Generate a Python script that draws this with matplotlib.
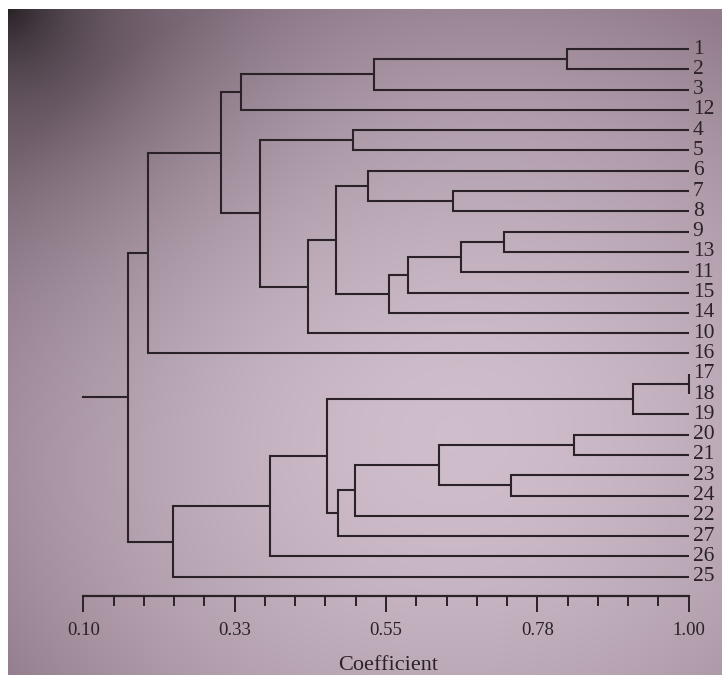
import numpy as np
import matplotlib
matplotlib.use("Agg")
import matplotlib.pyplot as plt

# leaves, top to bottom
leaves = ["1", "2", "3", "12", "4", "5", "6", "7", "8", "9", "13", "11", "15", "14",
          "10", "16", "17", "18", "19", "20", "21", "23", "24", "22", "27", "26", "25"]

# linkage: new cluster ids start at len(leaves)
merge_a = [0, 27, 28, 4, 7, 6, 9, 33, 34, 35, 32, 37, 30, 29, 40,
           16, 42, 19, 21, 44, 46, 47, 43, 49, 50, 41]
merge_b = [1, 2, 3, 5, 8, 31, 10, 11, 12, 13, 36, 14, 38, 39, 15,
           17, 18, 20, 22, 45, 23, 24, 48, 25, 26, 51]
merge_h = [0.819, 0.532, 0.334, 0.501, 0.650, 0.523, 0.725, 0.661, 0.582, 0.554,
           0.476, 0.434, 0.362, 0.304, 0.196,
           1.000, 0.917, 0.830, 0.736, 0.629, 0.504, 0.479, 0.463, 0.377, 0.234, 0.166]

major_ticks = [0.10, 0.325, 0.55, 0.775, 1.00]
major_labels = ["0.10", "0.33", "0.55", "0.78", "1.00"]
minor_ticks = np.arange(0.10, 1.0001, 0.045)

W, H = 722, 675
ink = "#2a2226"
plt.rcParams["font.family"] = ["Liberation Serif", "DejaVu Serif"]

fig = plt.figure(figsize=(W / 100, H / 100), dpi=100)
fig.patch.set_facecolor("white")

# photo-like paper background
bg = fig.add_axes([8 / W, 0, (W - 8) / W, (H - 9) / H])
bg.set_axis_off()
yy, xx = np.mgrid[0:H - 9, 0:W - 8]
r = np.hypot((xx - 440) / 540, (yy - 420) / 470)
center = np.array([208, 190, 204]) / 255
edge = np.array([146, 124, 140]) / 255
t = np.clip(r, 0, 1)[..., None] ** 1.8
img = center * (1 - t) + edge * t
dark = np.exp(-np.hypot(xx, yy) / 120)[..., None] * 0.72
img = img * (1 - dark)
bg.imshow(img, aspect="auto", extent=[0, 1, 0, 1], interpolation="bilinear")
bg.set_xlim(0, 1)
bg.set_ylim(0, 1)

x0, x1 = -0.0238, 1.0495
ax = fig.add_axes([0, 0, 1, 1])
ax.patch.set_alpha(0)
ax.set_axis_off()
ax.set_xlim(x0, x1)
ax.set_ylim(30.84, -2.414)

n = len(leaves)
pos = {i: (1.0, float(i)) for i in range(n)}
for k, (a, b, h) in enumerate(zip(merge_a, merge_b, merge_h)):
    xa, ya = pos[a]
    xb, yb = pos[b]
    ax.plot([xa, h, h, xb], [ya, ya, yb, yb], color=ink, lw=1.5,
            solid_joinstyle="miter", solid_capstyle="butt")
    pos[n + k] = (h, (ya + yb) / 2)

rx, ry = pos[n + len(merge_h) - 1]
ax.plot([0.10, rx], [ry, ry], color=ink, lw=1.5)

for i, lab in enumerate(leaves):
    ax.text(1.0 + 0.006, i, lab, ha="left", va="center", fontsize=15.5, color=ink)

# coefficient axis
ay = (H - 596) / H
ax2 = fig.add_axes([0, ay, 1, 0.0001])
ax2.patch.set_alpha(0)
ax2.set_xlim(x0, x1)
ax2.set_yticks([])
for s in ["top", "left", "right"]:
    ax2.spines[s].set_visible(False)
ax2.spines["bottom"].set_bounds(0.10, 1.00)
ax2.spines["bottom"].set_color(ink)
ax2.spines["bottom"].set_linewidth(1.6)
ax2.set_xticks(major_ticks)
ax2.set_xticklabels(major_labels)
ax2.set_xticks(minor_ticks, minor=True)
ax2.tick_params(axis="x", which="major", direction="out", length=11.5, width=1.4,
                color=ink, labelsize=13.5, labelcolor=ink, pad=7)
ax2.tick_params(axis="x", which="minor", direction="out", length=7, width=1.4, color=ink)

fig.text(388 / W, 1 - 665 / H, "Coefficient", ha="center", va="center",
         fontsize=16, color=ink)

fig.savefig("out.png", dpi=100)
